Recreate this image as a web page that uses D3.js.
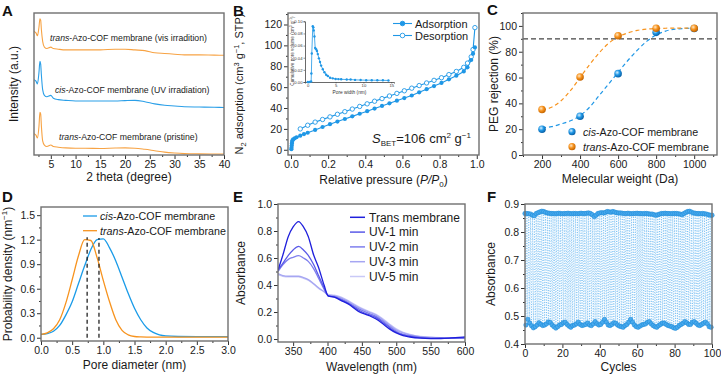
<!DOCTYPE html>
<html>
<head>
<meta charset="utf-8">
<script src="https://cdn.jsdelivr.net/npm/d3@7"></script>
<style>
body { margin: 0; background: #fff; }
</style>
</head>
<body>
<script>
// ---- A: XRD patterns
var xrdTheta = [1.6, 2.0, 2.3, 2.6, 2.8, 2.95, 3.1, 3.35, 3.7, 4.2, 5.0, 5.5, 6.5, 8, 10, 12, 15, 18, 20, 22, 24, 26, 28, 30, 32, 35, 38, 40];
var xrdVis = [87, 86, 84, 90, 96, 95, 88, 80, 76, 75, 76, 75, 74.5, 74, 74, 74, 74, 74.5, 74.5, 74, 73.5, 72, 71.5, 71, 70.5, 70.5, 70.3, 70.2];
var xrdUV = [53, 52, 50, 58, 66, 64, 56, 46, 42, 41, 42, 40, 39, 38.5, 38, 38, 38, 38, 38.3, 38.5, 37.5, 36, 35, 34.5, 34, 33.8, 33.6, 33.5];
var xrdPristine = [15, 14, 12, 20, 30, 29, 20, 10, 7, 6, 7, 6, 5.5, 5, 4.8, 4.8, 4.6, 4.9, 5, 4.8, 4, 3, 2, 1.4, 1, 0.8, 0.7, 0.7];

// ---- B: N2 isotherm + inset
var adsP = [0.002, 0.003, 0.004, 0.005, 0.006, 0.008, 0.012, 0.02, 0.03, 0.05, 0.07, 0.09, 0.13, 0.17, 0.21, 0.25, 0.29, 0.33, 0.37, 0.41, 0.45, 0.49, 0.53, 0.57, 0.61, 0.65, 0.69, 0.73, 0.77, 0.81, 0.85, 0.89, 0.93, 0.95, 0.97, 0.98, 0.99];
var adsV = [0.5, 2, 4, 6, 7.5, 9, 10, 11, 12, 13.5, 15, 16.3, 19, 21.8, 24.5, 27, 29.5, 32, 34.5, 37, 39.5, 42, 44.5, 47, 49.5, 52, 55, 58, 61, 64, 67.5, 71, 75, 79, 86, 92, 98];
var desP = [0.05, 0.09, 0.13, 0.17, 0.21, 0.25, 0.29, 0.33, 0.37, 0.41, 0.45, 0.49, 0.53, 0.57, 0.61, 0.65, 0.69, 0.73, 0.77, 0.81, 0.85, 0.89, 0.93, 0.95, 0.97, 0.98, 0.99];
var desV = [20, 23.5, 26.5, 29, 31.5, 34, 36.5, 39, 41.5, 44, 46.5, 49, 51.5, 54, 56.5, 59, 61.5, 64, 66.5, 69, 72, 75, 79, 83, 89, 96, 117];
var poreW = [0, 0.3, 0.6, 0.65, 0.72, 0.9, 1.0, 1.08, 1.2, 1.33, 1.5, 1.65, 1.8, 2.0, 2.2, 2.4, 2.7, 3.0, 3.3, 3.6, 4.0, 4.5, 5.0, 5.5, 6.0, 7.0, 7.7, 8.5, 9.5, 10.5, 11.5, 12.5, 13.5, 14.5];
var poreVol = [0, 0, 0.001, 0.014, 0.047, 0.092, 0.09, 0.085, 0.075, 0.056, 0.054, 0.051, 0.046, 0.039, 0.033, 0.027, 0.021, 0.016, 0.012, 0.01, 0.007, 0.006, 0.005, 0.0048, 0.0045, 0.004, 0.004, 0.0035, 0.0032, 0.003, 0.003, 0.0028, 0.0028, 0.0025];

// ---- C: PEG rejection
var pegMw = [200, 400, 600, 800, 1000];
var cisRej = [20, 30, 63, 95, 98];
var transRej = [35.2, 60.4, 92.4, 98.2, 98.2];
var fitMw = [200, 250, 300, 350, 400, 450, 500, 550, 600, 650, 700, 750, 800, 850, 900, 950, 1000];
var cisFit = [21, 22, 24, 26.5, 30.5, 37, 46, 55, 64, 73, 81, 88, 93, 96, 97.5, 98, 98.3];
var transFit = [35, 37, 42, 50, 60, 70, 79, 86.5, 91.5, 94.5, 96.5, 97.5, 98, 98.2, 98.3, 98.3, 98.3];
var cutoff = 90;

// ---- D: pore size distribution
var pdX = [0, 0.1, 0.2, 0.3, 0.4, 0.5, 0.6, 0.7, 0.8, 0.9, 1.0, 1.1, 1.2, 1.3, 1.4, 1.5, 1.6, 1.7, 1.8, 1.9, 2.0, 2.2, 2.5, 3.0];
var cisPd = [0.04, 0.05, 0.08, 0.15, 0.28, 0.44, 0.66, 0.88, 1.08, 1.2, 1.21, 1.1, 0.94, 0.74, 0.54, 0.36, 0.22, 0.12, 0.065, 0.035, 0.022, 0.015, 0.013, 0.013];
var transPd = [0.04, 0.06, 0.11, 0.22, 0.43, 0.71, 1.0, 1.2, 1.19, 0.98, 0.7, 0.44, 0.22, 0.09, 0.035, 0.015, 0.01, 0.008, 0.008, 0.008, 0.008, 0.008, 0.008, 0.008];
var pdPeaks = [[0.74, 1.23], [0.93, 1.22]];

// ---- E: UV-vis spectra
var uvWl = [328, 335, 343, 350, 358, 365, 372, 380, 387, 395, 401, 410, 420, 430, 445, 460, 470, 480, 490, 500, 510, 520, 535, 550, 565, 580, 600];
var uvNames = ["Trans membrane", "UV-1 min", "UV-2 min", "UV-3 min", "UV-5 min"];
var uvTrans = [0.51, 0.62, 0.76, 0.83, 0.87, 0.83, 0.76, 0.62, 0.53, 0.4, 0.32, 0.31, 0.285, 0.26, 0.205, 0.175, 0.15, 0.115, 0.075, 0.045, 0.025, 0.015, 0.006, 0.003, 0.004, 0.008, 0.015];
var uv1 = [0.51, 0.56, 0.62, 0.66, 0.686, 0.66, 0.62, 0.55, 0.47, 0.38, 0.32, 0.31, 0.29, 0.265, 0.215, 0.18, 0.16, 0.125, 0.085, 0.05, 0.03, 0.02, 0.01, 0.005, 0.005, 0.006, 0.01];
var uv2 = [0.5, 0.55, 0.59, 0.605, 0.617, 0.6, 0.575, 0.52, 0.45, 0.37, 0.32, 0.315, 0.295, 0.27, 0.225, 0.19, 0.17, 0.135, 0.095, 0.058, 0.035, 0.025, 0.013, 0.008, 0.006, 0.005, 0.006];
var uv3 = [0.485, 0.47, 0.465, 0.465, 0.465, 0.455, 0.44, 0.41, 0.38, 0.35, 0.325, 0.32, 0.305, 0.28, 0.235, 0.2, 0.18, 0.145, 0.105, 0.068, 0.045, 0.03, 0.018, 0.012, 0.008, 0.006, 0.005];
var uv5 = [0.475, 0.465, 0.46, 0.46, 0.46, 0.45, 0.435, 0.405, 0.375, 0.35, 0.33, 0.325, 0.31, 0.285, 0.24, 0.205, 0.185, 0.152, 0.112, 0.075, 0.05, 0.035, 0.02, 0.014, 0.01, 0.007, 0.005];
var uvColors = ["#1f1fdc", "#5a5ae8", "#7f7fee", "#a6a6f2", "#c9c9f7"];

// ---- F: switching cycles (high at cycle i, low at i + 0.5)
var cycHigh = [0.866, 0.866, 0.865, 0.864, 0.86, 0.858, 0.866, 0.869, 0.872, 0.874, 0.873,
  0.870, 0.868, 0.867, 0.866, 0.866, 0.865, 0.866, 0.867, 0.866, 0.865,
  0.866, 0.866, 0.867, 0.866, 0.865, 0.866, 0.866, 0.865, 0.866, 0.867,
  0.866, 0.866, 0.867, 0.868, 0.866, 0.862, 0.855, 0.86, 0.866, 0.868,
  0.869, 0.868, 0.870, 0.873, 0.872, 0.871, 0.873, 0.871, 0.869, 0.868,
  0.868, 0.867, 0.866, 0.866, 0.867, 0.866, 0.865, 0.866, 0.866, 0.867,
  0.866, 0.866, 0.865, 0.866, 0.866, 0.865, 0.864, 0.864, 0.862, 0.86,
  0.862, 0.864, 0.866, 0.866, 0.867, 0.866, 0.866, 0.865, 0.866, 0.866,
  0.866, 0.865, 0.864, 0.862, 0.866, 0.870, 0.873, 0.874, 0.871, 0.868,
  0.867, 0.866, 0.866, 0.865, 0.866, 0.865, 0.864, 0.862, 0.86, 0.86];
var cycLow = [0.468, 0.488, 0.475, 0.465, 0.458, 0.462, 0.468, 0.476, 0.47, 0.466,
  0.468, 0.472, 0.479, 0.477, 0.468, 0.462, 0.457, 0.462, 0.468, 0.47,
  0.476, 0.478, 0.47, 0.464, 0.46, 0.466, 0.468, 0.472, 0.478, 0.47,
  0.466, 0.468, 0.47, 0.475, 0.468, 0.466, 0.472, 0.48, 0.472, 0.468,
  0.47, 0.478, 0.488, 0.478, 0.468, 0.466, 0.47, 0.476, 0.474, 0.468,
  0.464, 0.462, 0.46, 0.466, 0.47, 0.478, 0.488, 0.478, 0.468, 0.462,
  0.46, 0.464, 0.468, 0.47, 0.472, 0.478, 0.48, 0.472, 0.466, 0.462,
  0.46, 0.466, 0.47, 0.475, 0.474, 0.47, 0.466, 0.464, 0.462, 0.458,
  0.456, 0.46, 0.466, 0.47, 0.474, 0.48, 0.476, 0.47, 0.47, 0.478,
  0.48, 0.474, 0.468, 0.466, 0.47, 0.474, 0.478, 0.472, 0.462, 0.46];

var width = 721, height = 380;
var font = "Arial, 'Liberation Sans', Helvetica, sans-serif";
var blue = "#1f97e6", orange = "#f7931e";

var svg = d3.select("body").append("svg")
  .attr("width", width).attr("height", height)
  .style("font-family", font);

var defs = svg.append("defs");
function sphere(id, c0, c1, c2) {
  var gr = defs.append("radialGradient").attr("id", id)
    .attr("cx", "38%").attr("cy", "35%").attr("r", "65%");
  gr.append("stop").attr("offset", "0%").attr("stop-color", c0);
  gr.append("stop").attr("offset", "50%").attr("stop-color", c1);
  gr.append("stop").attr("offset", "100%").attr("stop-color", c2);
}
sphere("ballBlue", "#d6f0ff", "#1f97e6", "#0a62a8");
sphere("ballOrange", "#ffe7c4", "#f7931e", "#c46400");

var clipN = 0;
function clip(b) {
  var id = "clip" + (clipN++);
  defs.append("clipPath").attr("id", id).append("rect")
    .attr("x", b.l).attr("y", b.t).attr("width", b.r - b.l).attr("height", b.b - b.t);
  return "url(#" + id + ")";
}

// axes with outward major/minor ticks on bottom/left, plus a grey frame
function axes(b, x, y, o) {
  var g = svg.append("g");
  g.append("g").attr("transform", "translate(0," + b.b + ")")
    .call(d3.axisBottom(x).tickValues(o.xt).tickSize(4).tickPadding(2).tickFormat(o.xf || d3.format("d")));
  if (o.xm) g.append("g").attr("transform", "translate(0," + b.b + ")")
    .call(d3.axisBottom(x).tickValues(o.xm).tickSize(2).tickFormat(""));
  if (o.yt) {
    g.append("g").attr("transform", "translate(" + b.l + ",0)")
      .call(d3.axisLeft(y).tickValues(o.yt).tickSize(4).tickPadding(2).tickFormat(o.yf || d3.format("d")));
    if (o.ym) g.append("g").attr("transform", "translate(" + b.l + ",0)")
      .call(d3.axisLeft(y).tickValues(o.ym).tickSize(2).tickFormat(""));
  }
  g.selectAll(".domain").remove();
  g.selectAll("text").attr("font-size", o.fs || 10.5).attr("font-family", font).attr("fill", "#1a1a1a");
  g.selectAll("line").attr("stroke", "#333").attr("stroke-width", 1);
  return g;
}
function frame(b) {
  svg.append("rect").attr("x", b.l).attr("y", b.t)
    .attr("width", b.r - b.l).attr("height", b.b - b.t)
    .attr("fill", "none").attr("stroke", "#707070").attr("stroke-width", 1.4);
}
function letter(t, x, y) {
  svg.append("text").attr("x", x).attr("y", y).attr("font-size", 15)
    .attr("font-weight", "bold").attr("fill", "#111").text(t);
}
function xTitle(x, y) {
  return svg.append("text").attr("x", x).attr("y", y).attr("text-anchor", "middle")
    .attr("font-size", 12).attr("fill", "#1a1a1a");
}
function yTitle(x, y, fs) {
  return svg.append("text").attr("transform", "translate(" + x + "," + y + ") rotate(-90)")
    .attr("text-anchor", "middle").attr("font-size", fs || 12).attr("fill", "#1a1a1a");
}
function range(a, b, s) { return d3.range(a, b + s / 2, s); }

// =============== A ===============
(function () {
  var b = {l: 34, r: 224, t: 13, b: 155};
  var x = d3.scaleLinear().domain([1.6, 40]).range([b.l, b.r]);
  var y = d3.scaleLinear().domain([0, 100]).range([b.b, b.t]);
  axes(b, x, y, {xt: range(5, 40, 5), xm: range(2.5, 37.5, 5)});
  var cp = clip(b);
  var line = d3.line().x(function (d) { return x(d[0]); }).y(function (d) { return y(d[1]); })
    .curve(d3.curveMonotoneX);
  [[xrdVis, "#f7a344"], [xrdUV, "#2a9fe8"], [xrdPristine, "#f7a344"]].forEach(function (s) {
    svg.append("path").attr("clip-path", cp)
      .attr("d", line(d3.zip(xrdTheta, s[0])))
      .attr("fill", "none").attr("stroke", s[1]).attr("stroke-width", 1.1);
  });
  var labs = [["trans", "-Azo-COF membrane (vis irradition)", 50, 41],
    ["cis", "-Azo-COF membrane (UV irradiation)", 55, 93],
    ["trans", "-Azo-COF membrane (pristine)", 59, 140]];
  labs.forEach(function (l) {
    var t = svg.append("text").attr("x", l[2]).attr("y", l[3]).attr("font-size", 8.7).attr("fill", "#1a1a1a");
    t.append("tspan").attr("font-style", "italic").text(l[0]);
    t.append("tspan").text(l[1]);
  });
  frame(b);
  xTitle(129, 181).text("2 theta (degree)");
  yTitle(18, 84).text("Intensity (a.u.)");
  letter("A", 2, 16);
})();

// =============== B ===============
(function () {
  var b = {l: 288, r: 479, t: 13, b: 155};
  var x = d3.scaleLinear().domain([-0.016, 1.012]).range([b.l, b.r]);
  var y = d3.scaleLinear().domain([-5, 131]).range([b.b, b.t]);
  axes(b, x, y, {xt: range(0, 1, 0.2), xm: range(0.1, 0.9, 0.2), xf: d3.format(".1f"),
    yt: range(0, 120, 20), ym: range(10, 130, 20)});
  var line = d3.line().x(function (d) { return x(d[0]); }).y(function (d) { return y(d[1]); });
  var ads = d3.zip(adsP, adsV), des = d3.zip(desP, desV);
  svg.append("path").attr("d", line(des)).attr("fill", "none").attr("stroke", blue).attr("stroke-width", 1.1);
  svg.append("path").attr("d", line(ads)).attr("fill", "none").attr("stroke", blue).attr("stroke-width", 1.1);
  svg.append("g").selectAll("circle").data(des).join("circle")
    .attr("cx", function (d) { return x(d[0]); }).attr("cy", function (d) { return y(d[1]); })
    .attr("r", 2.2).attr("fill", "#fff").attr("stroke", blue).attr("stroke-width", 0.9);
  svg.append("g").selectAll("circle").data(ads).join("circle")
    .attr("cx", function (d) { return x(d[0]); }).attr("cy", function (d) { return y(d[1]); })
    .attr("r", 2.1).attr("fill", blue);

  // legend
  [["Adsorption", blue, 23.5], ["Desorption", "#fff", 35.5]].forEach(function (l) {
    svg.append("line").attr("x1", 393).attr("x2", 412).attr("y1", l[2]).attr("y2", l[2])
      .attr("stroke", blue).attr("stroke-width", 1.1);
    svg.append("circle").attr("cx", 402.5).attr("cy", l[2]).attr("r", 2.3)
      .attr("fill", l[1]).attr("stroke", blue).attr("stroke-width", 0.9);
    svg.append("text").attr("x", 415).attr("y", l[2] + 4).attr("font-size", 11).attr("fill", "#1a1a1a").text(l[0]);
  });

  // S_BET
  var t = svg.append("text").attr("x", 372).attr("y", 143).attr("font-size", 13).attr("fill", "#1a1a1a");
  t.append("tspan").attr("font-style", "italic").text("S");
  t.append("tspan").attr("font-size", 8).attr("dy", 3).text("BET");
  t.append("tspan").attr("dy", -3).text("=106 cm");
  t.append("tspan").attr("font-size", 8).attr("dy", -5).text("2");
  t.append("tspan").attr("dy", 5).text(" g");
  t.append("tspan").attr("font-size", 8).attr("dy", -5).text("\u22121");

  // inset
  var ib = {l: 305, r: 394, t: 18, b: 82};
  var ix = d3.scaleLinear().domain([-0.5, 15.5]).range([ib.l, ib.r]);
  var iy = d3.scaleLinear().domain([0, 0.1]).range([ib.b, 21.3]);
  var ig = svg.append("g");
  ig.append("g").attr("transform", "translate(0," + ib.b + ")")
    .call(d3.axisBottom(ix).tickValues([0, 5, 10, 15]).tickSize(1.5).tickPadding(0.5));
  ig.append("g").attr("transform", "translate(" + ib.l + ",0)")
    .call(d3.axisLeft(iy).tickValues(range(0, 0.1, 0.02)).tickSize(1.5).tickPadding(1).tickFormat(d3.format(".2f")));
  ig.selectAll(".domain").attr("stroke", "#444").attr("stroke-width", 0.8);
  ig.selectAll("line").attr("stroke", "#444").attr("stroke-width", 0.6);
  ig.selectAll("text").attr("font-size", 4.2).attr("font-family", font).attr("fill", "#333");
  var pore = d3.zip(poreW, poreVol);
  var il = d3.line().x(function (d) { return ix(d[0]); }).y(function (d) { return iy(d[1]); });
  ig.append("path").attr("d", il(pore)).attr("fill", "none").attr("stroke", blue).attr("stroke-width", 0.8);
  ig.append("g").selectAll("circle").data(pore).join("circle")
    .attr("cx", function (d) { return ix(d[0]); }).attr("cy", function (d) { return iy(d[1]); })
    .attr("r", 1.2).attr("fill", blue);
  ig.append("text").attr("x", (ib.l + ib.r) / 2).attr("y", 94).attr("text-anchor", "middle")
    .attr("font-size", 4.8).attr("fill", "#333").text("Pore width (nm)");
  var iyt = ig.append("text").attr("transform", "translate(293.5,51) rotate(-90)")
    .attr("text-anchor", "middle").attr("font-size", 4.6).attr("fill", "#333");
  iyt.append("tspan").text("Cumulative pore volume (cm");
  iyt.append("tspan").attr("font-size", 3.2).attr("dy", -1.5).text("3");
  iyt.append("tspan").attr("dy", 1.5).text(" g");
  iyt.append("tspan").attr("font-size", 3.2).attr("dy", -1.5).text("\u22121");
  iyt.append("tspan").attr("dy", 1.5).text(")");

  frame(b);
  var xt = xTitle(383.5, 184);
  xt.append("tspan").text("Relative pressure (");
  xt.append("tspan").attr("font-style", "italic").text("P/P");
  xt.append("tspan").attr("font-size", 8).attr("dy", 3).text("0");
  xt.append("tspan").attr("dy", -3).text(")");
  var yt = yTitle(243, 84, 11);
  yt.append("tspan").text("N");
  yt.append("tspan").attr("font-size", 7.5).attr("dy", 3).text("2");
  yt.append("tspan").attr("dy", -3).text(" adsorption (cm");
  yt.append("tspan").attr("font-size", 7.5).attr("dy", -4).text("3");
  yt.append("tspan").attr("dy", 4).text(" g");
  yt.append("tspan").attr("font-size", 7.5).attr("dy", -4).text("\u22121");
  yt.append("tspan").attr("dy", 4).text(", STP)");
  letter("B", 233, 16);
})();

// =============== C ===============
(function () {
  var b = {l: 523, r: 717, t: 13, b: 155};
  var x = d3.scaleLinear().domain([100, 1120]).range([b.l, b.r]);
  var y = d3.scaleLinear().domain([0, 110]).range([b.b, b.t]);
  axes(b, x, y, {xt: range(200, 1000, 200), xm: range(100, 1100, 200),
    yt: range(0, 100, 20), ym: range(10, 110, 20)});
  svg.append("line").attr("x1", b.l).attr("x2", b.r).attr("y1", y(cutoff)).attr("y2", y(cutoff))
    .attr("stroke", "#444").attr("stroke-width", 1.2).attr("stroke-dasharray", "5,3");
  var line = d3.line().x(function (d) { return x(d[0]); }).y(function (d) { return y(d[1]); })
    .curve(d3.curveMonotoneX);
  [[cisFit, blue], [transFit, orange]].forEach(function (s) {
    svg.append("path").attr("d", line(d3.zip(fitMw, s[0])))
      .attr("fill", "none").attr("stroke", s[1]).attr("stroke-width", 1.2).attr("stroke-dasharray", "4,3");
  });
  [[cisRej, "url(#ballBlue)"], [transRej, "url(#ballOrange)"]].forEach(function (s) {
    svg.append("g").selectAll("circle").data(d3.zip(pegMw, s[0])).join("circle")
      .attr("cx", function (d) { return x(d[0]); }).attr("cy", function (d) { return y(d[1]); })
      .attr("r", 3.8).attr("fill", s[1]);
  });
  [["cis", "url(#ballBlue)", 131.7], ["trans", "url(#ballOrange)", 146.7]].forEach(function (l) {
    svg.append("circle").attr("cx", 572).attr("cy", l[2]).attr("r", 3.6).attr("fill", l[1]);
    var t = svg.append("text").attr("x", 583).attr("y", l[2] + 4).attr("font-size", 10.7).attr("fill", "#1a1a1a");
    t.append("tspan").attr("font-style", "italic").text(l[0]);
    t.append("tspan").text("-Azo-COF membrane");
  });
  frame(b);
  xTitle(620, 182.5).text("Melecular weight (Da)");
  yTitle(498, 84).text("PEG rejection (%)");
  letter("C", 487, 15);
})();

// =============== D ===============
(function () {
  var b = {l: 41, r: 228, t: 207, b: 341};
  var x = d3.scaleLinear().domain([0, 3]).range([b.l, b.r]);
  var y = d3.scaleLinear().domain([-0.04, 1.6]).range([b.b, b.t]);
  axes(b, x, y, {xt: range(0, 3, 0.5), xm: range(0.25, 2.75, 0.5), xf: d3.format(".1f"),
    yt: range(0, 1.5, 0.3), ym: range(0.15, 1.35, 0.3), yf: d3.format(".1f")});
  var cp = clip(b);
  var line = d3.line().x(function (d) { return x(d[0]); }).y(function (d) { return y(d[1]); })
    .curve(d3.curveMonotoneX);
  svg.append("path").attr("clip-path", cp).attr("d", line(d3.zip(pdX, cisPd)))
    .attr("fill", "none").attr("stroke", "#1a9be8").attr("stroke-width", 1.3);
  svg.append("path").attr("clip-path", cp).attr("d", line(d3.zip(pdX, transPd)))
    .attr("fill", "none").attr("stroke", orange).attr("stroke-width", 1.3);
  pdPeaks.forEach(function (p) {
    svg.append("line").attr("x1", x(p[0])).attr("x2", x(p[0])).attr("y1", y(0)).attr("y2", y(p[1]))
      .attr("stroke", "#111").attr("stroke-width", 1.2).attr("stroke-dasharray", "4,3");
  });
  [["cis", "#1a9be8", 216], ["trans", orange, 230.7]].forEach(function (l) {
    svg.append("line").attr("x1", 83).attr("x2", 97).attr("y1", l[2]).attr("y2", l[2])
      .attr("stroke", l[1]).attr("stroke-width", 1.3);
    var t = svg.append("text").attr("x", 100).attr("y", l[2] + 4).attr("font-size", 10.7).attr("fill", "#1a1a1a");
    t.append("tspan").attr("font-style", "italic").text(l[0]);
    t.append("tspan").text("-Azo-COF membrane");
  });
  frame(b);
  xTitle(134.5, 369).text("Pore diameter (nm)");
  var yt = yTitle(12, 274);
  yt.append("tspan").text("Probability density (nm");
  yt.append("tspan").attr("font-size", 8).attr("dy", -5).text("\u22121");
  yt.append("tspan").attr("dy", 5).text(")");
  letter("D", 2, 202);
})();

// =============== E ===============
(function () {
  var b = {l: 278, r: 465, t: 204, b: 342};
  var x = d3.scaleLinear().domain([328, 600]).range([b.l, b.r]);
  var y = d3.scaleLinear().domain([-0.022, 1.0]).range([b.b, b.t]);
  axes(b, x, y, {xt: range(350, 600, 50), xm: range(375, 575, 50),
    yt: range(0, 1, 0.2), ym: range(0.1, 0.9, 0.2), yf: d3.format(".1f")});
  var cp = clip(b);
  var line = d3.line().x(function (d) { return x(d[0]); }).y(function (d) { return y(d[1]); })
    .curve(d3.curveMonotoneX);
  var series = [uvTrans, uv1, uv2, uv3, uv5];
  for (var i = series.length - 1; i >= 0; i--) {
    svg.append("path").attr("clip-path", cp).attr("d", line(d3.zip(uvWl, series[i])))
      .attr("fill", "none").attr("stroke", uvColors[i]).attr("stroke-width", 1.3);
  }
  uvNames.forEach(function (n, i) {
    var yy = 217.3 + i * 14.8;
    svg.append("line").attr("x1", 350).attr("x2", 365).attr("y1", yy).attr("y2", yy)
      .attr("stroke", uvColors[i]).attr("stroke-width", 1.5);
    svg.append("text").attr("x", 369).attr("y", yy + 4.3).attr("font-size", 12).attr("fill", "#1a1a1a").text(n);
  });
  frame(b);
  xTitle(371.5, 371).text("Wavelength (nm)");
  yTitle(245, 273).text("Absorbance");
  letter("E", 233, 202);
})();

// =============== F ===============
(function () {
  var b = {l: 525, r: 712, t: 204, b: 344};
  var x = d3.scaleLinear().domain([0, 100]).range([b.l, b.r]);
  var y = d3.scaleLinear().domain([0.4, 0.9]).range([b.b, b.t]);
  axes(b, x, y, {xt: range(0, 100, 20), xm: range(10, 90, 20),
    yt: range(0.4, 0.9, 0.1), ym: range(0.45, 0.85, 0.1), yf: d3.format(".1f")});
  var pts = [];
  cycHigh.forEach(function (v, i) {
    pts.push([i, v]);
    if (i < cycLow.length) pts.push([i + 0.5, cycLow[i]]);
  });
  var line = d3.line().x(function (d) { return x(d[0]); }).y(function (d) { return y(d[1]); });
  svg.append("path").attr("d", line(pts)).attr("fill", "none")
    .attr("stroke", "#55aff0").attr("stroke-width", 0.65).attr("stroke-dasharray", "1,1.5");
  svg.append("g").selectAll("circle").data(pts).join("circle")
    .attr("cx", function (d) { return x(d[0]); }).attr("cy", function (d) { return y(d[1]); })
    .attr("r", 2.2).attr("fill", "#49aaee").attr("stroke", "#1e8bd8").attr("stroke-width", 0.6);
  frame(b);
  xTitle(618.5, 371).text("Cycles");
  yTitle(495, 274).text("Absorbance");
  letter("F", 487, 202);
})();
</script>
</body>
</html>
